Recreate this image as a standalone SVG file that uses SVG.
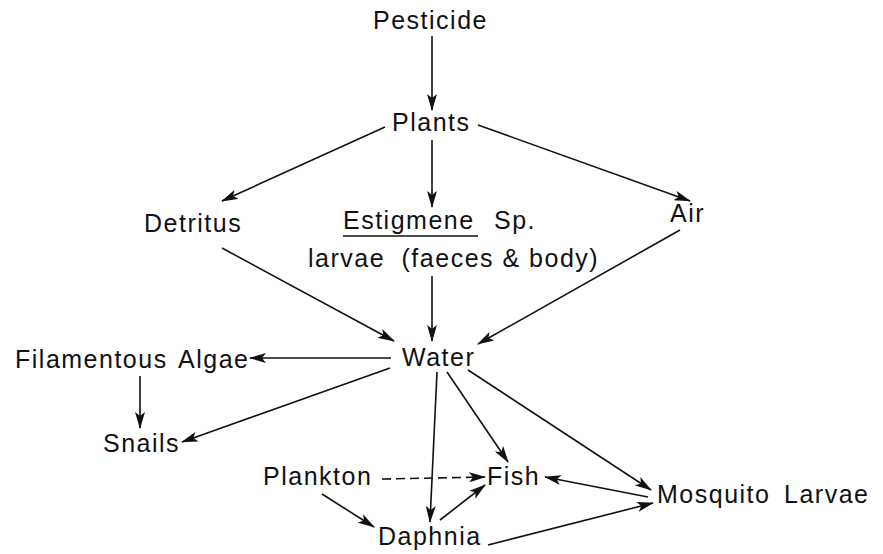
<svg xmlns="http://www.w3.org/2000/svg" width="883" height="554" viewBox="0 0 883 554">
<defs>
<marker id="ah" viewBox="0 0 17 10" refX="16" refY="5" markerWidth="17" markerHeight="10" markerUnits="userSpaceOnUse" orient="auto">
<path d="M0,0 L17,5 L0,10 L4,5 Z" fill="#111"/>
</marker>
<style>
text{font-family:"Liberation Sans",Arial,sans-serif;font-size:25px;letter-spacing:1.5px;fill:#111}
.c line{stroke:#111;stroke-width:1.6;fill:none;marker-end:url(#ah)}
.c .d{stroke-dasharray:9,5}
</style>
</defs>
<rect width="883" height="554" fill="#fff"/>
<g id="pesticide"><text x="373" y="29">Pesticide</text></g>
<g id="plants"><text x="392" y="131">Plants</text></g>
<g id="detritus"><text x="144" y="232">Detritus</text></g>
<g id="estigmene"><text x="343" y="229">Estigmene</text><text x="494" y="229">Sp.</text><line x1="343" y1="236" x2="478" y2="236" stroke="#111" stroke-width="1.5"/><text x="308" y="267">larvae <tspan dx="8">(faeces</tspan> &amp; body)</text></g>
<g id="air"><text x="670" y="222">Air</text></g>
<g id="water"><text x="402" y="366">Water</text></g>
<g id="algae"><text x="15" y="368">Filamentous</text><text x="178" y="368">Algae</text></g>
<g id="snails"><text x="103" y="452">Snails</text></g>
<g id="plankton"><text x="263" y="485">Plankton</text></g>
<g id="fish"><text x="487" y="485">Fish</text></g>
<g id="mosquito"><text x="657" y="503">Mosquito</text><text x="784" y="503">Larvae</text></g>
<g id="daphnia"><text x="378" y="545">Daphnia</text></g>
<g id="connectors" class="c">
<line x1="432" y1="36" x2="432" y2="110"/>
<line x1="385" y1="127" x2="222" y2="201"/>
<line x1="432" y1="140" x2="432" y2="207"/>
<line x1="478" y1="125" x2="690" y2="201"/>
<line x1="222" y1="248" x2="394" y2="341"/>
<line x1="432" y1="276" x2="432" y2="341"/>
<line x1="680" y1="230" x2="478" y2="344"/>
<line x1="391" y1="358" x2="250" y2="358"/>
<line x1="140" y1="376" x2="140" y2="428"/>
<line x1="390" y1="368" x2="182" y2="442"/>
<line x1="437" y1="372" x2="430" y2="522"/>
<line x1="447" y1="372" x2="508" y2="462"/>
<line x1="468" y1="370" x2="651" y2="490"/>
<line class="d" x1="382" y1="479" x2="485" y2="477"/>
<line x1="322" y1="494" x2="374" y2="527"/>
<line x1="440" y1="520" x2="485" y2="485"/>
<line x1="648" y1="497" x2="545" y2="477"/>
<line x1="488" y1="545" x2="653" y2="503"/>
</g>
</svg>
